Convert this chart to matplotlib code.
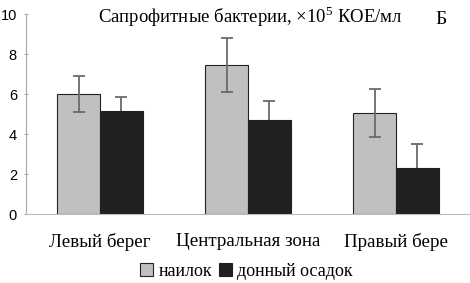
import numpy as np
import matplotlib
matplotlib.use("Agg")
import matplotlib.pyplot as plt

plt.rcParams['mathtext.fontset'] = 'custom'
plt.rcParams['mathtext.rm'] = 'Liberation Serif'

# data
categories = ["Левый берег", "Центральная зона", "Правый бере"]
nailok = [6.0, 7.45, 5.05]
nailok_err = [0.9, 1.35, 1.2]
osadok = [5.15, 4.7, 2.3]
osadok_err = [0.7, 0.95, 1.2]
series_names = ["наилок", "донный осадок"]
yticks = [0, 2, 4, 6, 8, 10]

serif = "Liberation Serif"
sans = "Liberation Sans"

fig = plt.figure(figsize=(4.7, 2.83), dpi=100)
ax = fig.add_axes([26 / 470, 1 - 214 / 283, 1 - 26 / 470, 200 / 283])

x = np.arange(len(categories))
w = 0.29
ax.bar(x - w / 2, nailok, w, color="#c0c0c0", edgecolor="#222222", linewidth=0.8,
       label=series_names[0], zorder=2)
ax.bar(x + w / 2, osadok, w, color="#202020", edgecolor="#202020", linewidth=0.8,
       label=series_names[1], zorder=2)
ax.errorbar(x - w / 2, nailok, yerr=nailok_err, fmt="none", ecolor="#6a6a6a",
            elinewidth=1.3, capsize=4, capthick=1.3, zorder=3)
ax.errorbar(x + w / 2, osadok, yerr=osadok_err, fmt="none", ecolor="#6a6a6a",
            elinewidth=1.3, capsize=4, capthick=1.3, zorder=1)

ax.set_xlim(-0.5, 2.5)
ax.set_ylim(0, 10)
ax.set_yticks(yticks)
ax.set_yticklabels([str(t) for t in yticks], fontfamily=sans, fontsize=10.5)
ax.set_xticks(x)
ax.set_xticklabels(categories, fontfamily=serif, fontsize=13.7)
ax.tick_params(axis="x", length=0, pad=14)
ax.tick_params(axis="y", length=3, direction="inout", color="#aaaaaa", pad=5)

for s in ["top", "right"]:
    ax.spines[s].set_visible(False)
ax.spines["left"].set_color("#aaaaaa")
ax.spines["bottom"].set_color("#bbbbbb")

ax.text(0.505, 0.985, "Сапрофитные бактерии, ×10$^{\\mathrm{5}}$ КОЕ/мл",
        transform=ax.transAxes, ha="center", va="center", fontfamily=serif, fontsize=13.5)
ax.text(0.935, 0.97, "Б", transform=ax.transAxes, ha="center", va="center",
        fontfamily=serif, fontsize=14)

fig.legend(loc="center", bbox_to_anchor=(0.525, 1 - 271 / 283), ncol=2, frameon=False,
           prop={"family": serif, "size": 13}, handlelength=0.7, handleheight=0.7,
           handletextpad=0.3, columnspacing=0.4, borderpad=0)

fig.savefig("out.png", dpi=100)
